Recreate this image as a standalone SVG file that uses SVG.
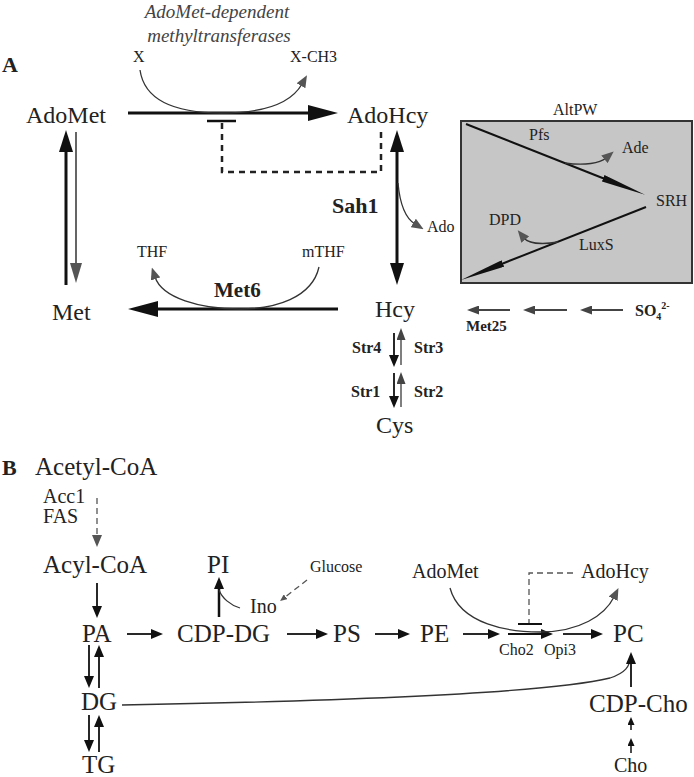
<svg xmlns="http://www.w3.org/2000/svg" width="694" height="777" viewBox="0 0 694 777" font-family="'Liberation Serif', 'Tinos', 'DejaVu Serif', serif">
<style>
text{font-family:"Liberation Serif","Tinos","DejaVu Serif",serif;fill:#222}
.L{font-size:24px}
.LB{font-size:25px}
.M{font-size:20px}
.S{font-size:16px}
.b{font-weight:bold}
.it{font-style:italic;fill:#444}
.thick{stroke:#111;stroke-width:3;fill:none}
.med{stroke:#111;stroke-width:1.8;fill:none}
.thin{stroke:#333;stroke-width:1.3;fill:none}
.dash{stroke:#222;stroke-width:2.5;fill:none;stroke-dasharray:6 5}
.dashB{stroke:#555;stroke-width:1.3;fill:none;stroke-dasharray:6 4}
</style>
<defs>
<marker id="mA" viewBox="0 0 30 16" markerWidth="30" markerHeight="16" refX="2" refY="8" orient="auto-start-reverse" markerUnits="userSpaceOnUse"><path d="M0,0L30,8L0,16z" fill="#111"/></marker>
<marker id="mB" viewBox="0 0 22 14" markerWidth="22" markerHeight="14" refX="2" refY="7" orient="auto-start-reverse" markerUnits="userSpaceOnUse"><path d="M0,0L22,7L0,14z" fill="#111"/></marker>
<marker id="mG" viewBox="0 0 20 12" markerWidth="20" markerHeight="12" refX="2" refY="6" orient="auto" markerUnits="userSpaceOnUse"><path d="M0,0L20,6L0,12z" fill="#555"/></marker>
<marker id="mS" viewBox="0 0 12 10" markerWidth="12" markerHeight="10" refX="2" refY="5" orient="auto" markerUnits="userSpaceOnUse"><path d="M0,0L12,5L0,10z" fill="#111"/></marker>
<marker id="mSG" viewBox="0 0 12 9" markerWidth="12" markerHeight="9" refX="2" refY="4.5" orient="auto" markerUnits="userSpaceOnUse"><path d="M0,0L12,4.5L0,9z" fill="#444"/></marker>
<marker id="mT" viewBox="0 0 12 10" markerWidth="12" markerHeight="10" refX="2" refY="5" orient="auto" markerUnits="userSpaceOnUse"><path d="M0,0L12,5L0,10z" fill="#555"/></marker>
<marker id="mTiny" viewBox="0 0 8 7" markerWidth="8" markerHeight="7" refX="2" refY="3.5" orient="auto" markerUnits="userSpaceOnUse"><path d="M0,0L8,3.5L0,7z" fill="#111"/></marker>
<marker id="mTinyG" viewBox="0 0 7 6" markerWidth="7" markerHeight="6" refX="2" refY="3" orient="auto" markerUnits="userSpaceOnUse"><path d="M0,0L7,3L0,6z" fill="#555"/></marker>
<marker id="mLong" viewBox="0 0 45 7" markerWidth="45" markerHeight="7" refX="2" refY="3.5" orient="auto" markerUnits="userSpaceOnUse"><path d="M0,0L45,3.5L0,7z" fill="#111"/></marker>
</defs>

<!-- Panel A -->
<g id="panelA">
<text x="2" y="72" font-size="22" class="b">A</text>
<text x="217" y="18" font-size="19" class="it" text-anchor="middle">AdoMet-dependent</text>
<text x="219" y="42" font-size="19" class="it" text-anchor="middle">methyltransferases</text>
</g>
<g id="box-altpw">
<rect x="461" y="121" width="231" height="162" fill="#c6c6c6" stroke="#333" stroke-width="2"/>
<text x="553" y="115" class="S">AltPW</text>
</g>
<g id="n-X"><text x="133" y="62" class="S">X</text></g>
<g id="n-XCH3"><text x="290" y="62" class="S">X-CH3</text></g>
<g id="n-AdoMet"><text x="26" y="123" class="L">AdoMet</text></g>
<g id="n-AdoHcy"><text x="347" y="123" class="L">AdoHcy</text></g>
<g id="n-Met"><text x="52" y="320" class="L">Met</text></g>
<g id="n-Hcy"><text x="375" y="317" class="L">Hcy</text></g>
<g id="n-Cys"><text x="376" y="433" class="L">Cys</text></g>
<g id="n-THF"><text x="137" y="257" class="S">THF</text></g>
<g id="n-mTHF"><text x="302" y="257" class="S">mTHF</text></g>
<g id="n-Ado"><text x="427" y="232" class="S">Ado</text></g>
<g id="n-Pfs"><text x="529" y="140" class="S">Pfs</text></g>
<g id="n-Ade"><text x="622" y="153" class="S">Ade</text></g>
<g id="n-SRH"><text x="656" y="206" class="S">SRH</text></g>
<g id="n-DPD"><text x="489" y="225" class="S">DPD</text></g>
<g id="n-LuxS"><text x="579" y="250" class="S">LuxS</text></g>
<g id="n-SO4"><text x="635" y="316" font-size="16" class="b">SO<tspan font-size="10" dy="4">4</tspan><tspan font-size="10" dy="-11">2-</tspan></text></g>
<g id="lbl-Sah1"><text x="332" y="213" font-size="22" class="b">Sah1</text></g>
<g id="lbl-Met6"><text x="214" y="297" font-size="21" class="b">Met6</text></g>
<g id="lbl-Met25"><text x="466" y="331" font-size="15" class="b">Met25</text></g>
<g id="lbl-Str"><text x="352" y="353" font-size="16" class="b">Str4</text><text x="414" y="353" font-size="16" class="b">Str3</text><text x="351" y="397" font-size="16" class="b">Str1</text><text x="414" y="397" font-size="16" class="b">Str2</text></g>

<!-- Panel B -->
<g id="panelB"><text x="2" y="475" font-size="22" class="b">B</text></g>
<g id="n-AcetylCoA"><text x="35" y="475" class="LB">Acetyl-CoA</text></g>
<g id="lbl-Acc1"><text x="43" y="503" class="M">Acc1</text><text x="43" y="523" class="M">FAS</text></g>
<g id="n-AcylCoA"><text x="43" y="573" class="LB">Acyl-CoA</text></g>
<g id="n-PA"><text x="82" y="642" class="LB">PA</text></g>
<g id="n-CDPDG"><text x="177" y="642" class="LB">CDP-DG</text></g>
<g id="n-PS"><text x="333" y="642" class="LB">PS</text></g>
<g id="n-PE"><text x="420" y="642" class="LB">PE</text></g>
<g id="n-PC"><text x="613" y="642" class="LB">PC</text></g>
<g id="n-PI"><text x="207" y="573" class="LB">PI</text></g>
<g id="n-Ino"><text x="250" y="613" class="M">Ino</text></g>
<g id="n-Glucose"><text x="310" y="572" class="S">Glucose</text></g>
<g id="n-AdoMetB"><text x="412" y="578" class="M">AdoMet</text></g>
<g id="n-AdoHcyB"><text x="581" y="578" class="M">AdoHcy</text></g>
<g id="lbl-Cho2"><text x="499" y="655" class="S">Cho2</text><text x="544" y="655" class="S">Opi3</text></g>
<g id="n-DG"><text x="81" y="710" class="LB">DG</text></g>
<g id="n-TG"><text x="82" y="773" class="LB">TG</text></g>
<g id="n-CDPCho"><text x="589" y="712" class="LB">CDP-Cho</text></g>
<g id="n-Cho"><text x="614" y="772" class="M">Cho</text></g>

<g id="connectors">
<!-- A -->
<line x1="128" y1="113" x2="310" y2="113" class="thick" marker-end="url(#mA)"/>
<path d="M140,70 C145,105 185,113 222,113 C262,113 290,105 302,84" class="thin" marker-end="url(#mT)"/>
<line x1="207" y1="121" x2="236" y2="121" stroke="#111" stroke-width="2.5"/>
<path d="M222,123 V172 H381 V130" class="dash"/>
<line x1="66" y1="285" x2="66" y2="150" class="thick" marker-end="url(#mB)"/>
<line x1="76" y1="132" x2="76" y2="265" stroke="#555" stroke-width="1.8" marker-end="url(#mG)"/>
<line x1="397" y1="150" x2="397" y2="265" class="thick" marker-start="url(#mB)" marker-end="url(#mB)"/>
<path d="M398,183 C400,205 405,218 415,224" class="thin" marker-end="url(#mT)"/>
<line x1="338" y1="309" x2="156" y2="309" class="thick" marker-end="url(#mA)"/>
<path d="M319,267 C312,298 275,309 240,309 C200,309 162,298 155,277" class="thin" marker-end="url(#mT)"/>
<line x1="394" y1="333" x2="394" y2="357" class="med" marker-end="url(#mS)"/>
<line x1="401" y1="365" x2="401" y2="338" stroke="#555" stroke-width="1.5" marker-end="url(#mSG)"/>
<line x1="394" y1="373" x2="394" y2="398" class="med" marker-end="url(#mS)"/>
<line x1="401" y1="407" x2="401" y2="382" stroke="#555" stroke-width="1.5" marker-end="url(#mSG)"/>
<line x1="466" y1="124" x2="605" y2="179" stroke="#111" stroke-width="2" marker-end="url(#mLong)"/>
<line x1="646" y1="207" x2="501" y2="264.2" stroke="#111" stroke-width="2" marker-end="url(#mLong)"/>
<path d="M565,163 C585,166 600,163 606,158" class="thin" marker-end="url(#mT)"/>
<path d="M558,242 C540,245 528,243 524,238" class="thin" marker-end="url(#mT)"/>
<line x1="510" y1="310" x2="477" y2="310" stroke="#444" stroke-width="1.8" marker-end="url(#mSG)"/>
<line x1="567" y1="310" x2="533" y2="310" stroke="#444" stroke-width="1.8" marker-end="url(#mSG)"/>
<line x1="623" y1="310" x2="590" y2="310" stroke="#444" stroke-width="1.8" marker-end="url(#mSG)"/>
<!-- B -->
<line x1="97" y1="498" x2="97" y2="537" class="dashB" marker-end="url(#mT)"/>
<line x1="97" y1="583" x2="97" y2="608" class="med" marker-end="url(#mS)"/>
<line x1="127" y1="634" x2="153" y2="634" class="med" marker-end="url(#mS)"/>
<line x1="287" y1="634" x2="318" y2="634" class="med" marker-end="url(#mS)"/>
<line x1="375" y1="634" x2="400" y2="634" class="med" marker-end="url(#mS)"/>
<line x1="463" y1="634" x2="490" y2="634" class="med" marker-end="url(#mS)"/>
<line x1="508" y1="634" x2="543" y2="634" class="med" marker-end="url(#mS)"/>
<line x1="563" y1="634" x2="593" y2="634" class="med" marker-end="url(#mS)"/>
<line x1="219" y1="617" x2="219" y2="587" stroke="#111" stroke-width="2.5" marker-end="url(#mS)"/>
<path d="M240,608 C230,605 222,598 219,590" class="thin"/>
<line x1="307" y1="580" x2="284" y2="598" class="dashB" stroke-dasharray="4 3" marker-end="url(#mTinyG)"/>
<path d="M450,588 C460,625 510,632 540,632 C580,632 605,615 614,597" class="thin" marker-end="url(#mT)"/>
<path d="M529,625 V573 H575" class="dashB"/>
<line x1="518" y1="624" x2="542" y2="624" stroke="#111" stroke-width="2"/>
<line x1="89" y1="645" x2="89" y2="678" class="med" marker-end="url(#mS)"/>
<line x1="99" y1="688" x2="99" y2="655" class="med" marker-end="url(#mS)"/>
<line x1="89" y1="715" x2="89" y2="742" class="med" marker-end="url(#mS)"/>
<line x1="99" y1="752" x2="99" y2="725" class="med" marker-end="url(#mS)"/>
<path d="M122,705 C400,700 560,690 610,678 C625,673 630,667 631,655" class="thin"/>
<line x1="631" y1="687" x2="631" y2="662" class="med" marker-end="url(#mS)"/>
<line x1="631" y1="730" x2="631" y2="723" stroke="#111" stroke-width="1.5" marker-end="url(#mTiny)"/>
<line x1="631" y1="753" x2="631" y2="744" stroke="#111" stroke-width="1.5" marker-end="url(#mTiny)"/>
</g>
</svg>
